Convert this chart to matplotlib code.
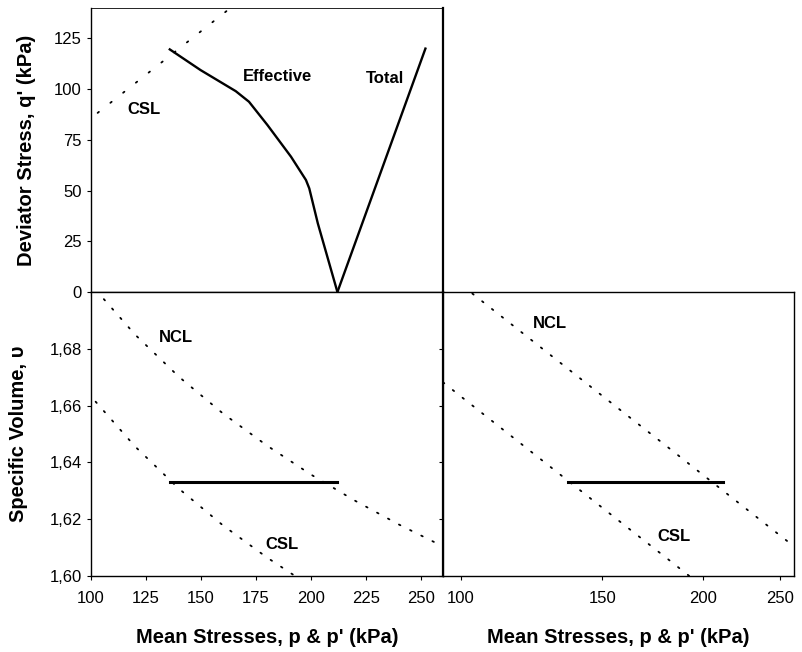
import numpy as np
import matplotlib
matplotlib.use('Agg')
import matplotlib.pyplot as plt
from matplotlib.ticker import FuncFormatter, NullLocator, FixedLocator, FixedFormatter

plt.rcParams['font.family'] = ['Liberation Sans', 'DejaVu Sans']

# stress paths (q-p plane)
eff_p = [135.8, 149.8, 165.8, 171.8, 180.2, 190.9, 197.7, 199.2, 203.1, 212.0]
eff_q = [119.6, 109.4, 99.0, 93.8, 82.3, 66.7, 55.2, 51.1, 33.8, 0.0]
tot_p = [212.0, 252.0]
tot_q = [0.0, 120.0]
csl_q_p = [103.0, 163.0]
csl_q_q = [88.3, 139.7]

# v - p plane
ncl_p = [95, 100, 120, 140, 160, 180, 200, 220, 240, 260]
ncl_v = [1.7076, 1.7026, 1.6850, 1.6701, 1.6572, 1.6459, 1.6357, 1.6265, 1.6181, 1.6104]
csl_p = [95, 100, 120, 140, 160, 180, 200]
csl_v = [1.6682, 1.6632, 1.6456, 1.6307, 1.6178, 1.6065, 1.5963]
und_p = [136.0, 212.0]
und_v = [1.633, 1.633]

fig = plt.figure(figsize=(8.02, 6.52), dpi=100)
ax1 = fig.add_axes([0.1135, 0.5521, 0.4389, 0.4356])
ax2 = fig.add_axes([0.1135, 0.1166, 0.4389, 0.4356])
ax3 = fig.add_axes([0.5524, 0.1166, 0.4377, 0.4356])

dot_top = (0, (0.9, 8.1))
dot_bot = (0, (0.9, 6.0))
lbl = dict(fontsize=14.5, fontweight='bold', va='center', ha='center')
ann = dict(fontsize=12, fontweight='bold', ha='center', va='center')

# top: q - p
ax1.plot(csl_q_p, csl_q_q, color='black', lw=1.3, linestyle=dot_top, dash_capstyle='round')
ax1.plot(eff_p, eff_q, color='black', lw=1.7)
ax1.plot(tot_p, tot_q, color='black', lw=1.7)
ax1.set_xlim(100, 260)
ax1.set_ylim(0, 140)
ax1.set_yticks([0, 25, 50, 75, 100, 125])
ax1.set_xticks([100, 125, 150, 175, 200, 225, 250])
ax1.tick_params(labelbottom=False, direction='out', length=3, labelsize=12)
ax1.set_ylabel("Deviator Stress, q' (kPa)", **lbl)
ax1.yaxis.set_label_coords(-0.182, 0.5)
ax1.text(123.9, 90, 'CSL', **ann)
ax1.text(184.8, 106.4, 'Effective', **ann)
ax1.text(233.5, 105.2, 'Total', **ann)

comma = FuncFormatter(lambda v, pos: f'{v:.2f}'.replace('.', ','))

# bottom left: v - p (linear)
ax2.plot(ncl_p, ncl_v, color='black', lw=1.3, linestyle=dot_bot, dash_capstyle='round')
ax2.plot(csl_p, csl_v, color='black', lw=1.3, linestyle=dot_bot, dash_capstyle='round')
ax2.plot(und_p, und_v, color='black', lw=2.2)
ax2.set_xlim(100, 260)
ax2.set_ylim(1.60, 1.70)
ax2.set_yticks([1.60, 1.62, 1.64, 1.66, 1.68])
ax2.yaxis.set_major_formatter(comma)
ax2.set_xticks([100, 125, 150, 175, 200, 225, 250])
ax2.tick_params(direction='out', length=3, labelsize=12)
ax2.tick_params(axis='x', pad=8)
ax2.set_ylabel('Specific Volume, υ', **lbl)
ax2.yaxis.set_label_coords(-0.205, 0.5)
ax2.set_xlabel("Mean Stresses, p & p' (kPa)", **lbl)
ax2.xaxis.set_label_coords(0.5, -0.215)
ax2.text(138.4, 1.6839, 'NCL', **ann)
ax2.text(187, 1.611, 'CSL', **ann)

# bottom right: v - ln p
ax3.plot(ncl_p, ncl_v, color='black', lw=1.3, linestyle=dot_bot, dash_capstyle='round')
ax3.plot(csl_p, csl_v, color='black', lw=1.3, linestyle=dot_bot, dash_capstyle='round')
ax3.plot(und_p, und_v, color='black', lw=2.2)
ax3.set_xscale('log')
ax3.set_xlim(95, 260)
ax3.set_ylim(1.60, 1.70)
ax3.xaxis.set_major_locator(FixedLocator([100, 150, 200, 250]))
ax3.xaxis.set_major_formatter(FixedFormatter(['100', '150', '200', '250']))
ax3.xaxis.set_minor_locator(NullLocator())
ax3.set_yticks([1.60, 1.62, 1.64, 1.66, 1.68])
ax3.tick_params(labelleft=False, direction='out', length=3, labelsize=12)
ax3.tick_params(axis='x', pad=8)
ax3.set_xlabel("Mean Stresses, p & p' (kPa)", **lbl)
ax3.xaxis.set_label_coords(0.5, -0.215)
ax3.text(129.0, 1.6889, 'NCL', **ann)
ax3.text(184.2, 1.6139, 'CSL', **ann)

for ax in (ax1, ax2, ax3):
    for s in ax.spines.values():
        s.set_linewidth(1.0)
ax1.spines['right'].set_linewidth(1.6)
ax2.spines['right'].set_linewidth(1.6)
ax1.spines['top'].set_linewidth(0.6)

fig.savefig('out.png', dpi=100)
